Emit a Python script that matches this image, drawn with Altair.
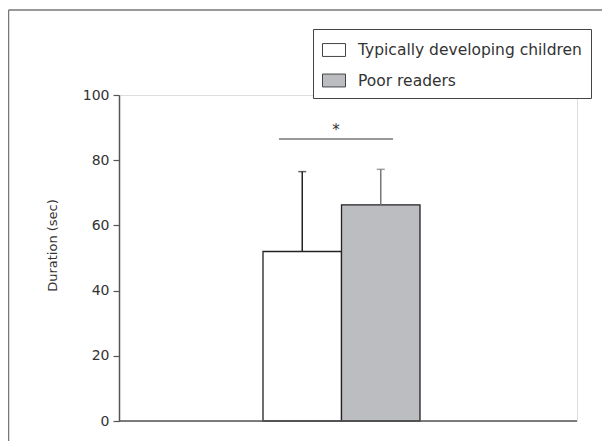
import altair as alt
import pandas as pd

groups = ["Typically developing children", "Poor readers"]
means = [52.0, 66.3]
upper = [76.5, 77.2]
err_colors = ["#222222", "#777777"]
fills = ["#ffffff", "#bcbdc1"]
y_ticks = [0, 20, 40, 60, 80, 100]
sig_y = 86.5
star_y = 89.3

FONT = "DejaVu Sans"
W, H = 458, 326

df = pd.DataFrame({"group": groups, "mean": means, "upper": upper, "ecol": err_colors})

xscale = alt.Scale(domain=groups, range=[144, 301], paddingInner=0, paddingOuter=0)
yscale = alt.Scale(domain=[0, 100], nice=False)

base = alt.Chart(df)

bars = base.mark_bar(stroke="#222222", strokeWidth=1.3).encode(
    x=alt.X("group:N", scale=xscale, axis=None, sort=groups),
    y=alt.Y("mean:Q", scale=yscale,
            axis=alt.Axis(values=y_ticks, title="Duration (sec)", grid=False,
                          tickSize=6, labelPadding=4, domainColor="#555555",
                          tickColor="#555555", domainWidth=1.5, tickWidth=1.2,
                          labelFont=FONT, labelFontSize=14, labelColor="#333333",
                          titleFont=FONT, titleFontSize=13, titleFontWeight="normal",
                          titleColor="#333333", titleAngle=-90, titleX=-60, titleY=150,
                          titleAlign="center", titleBaseline="bottom")),
    fill=alt.Fill("group:N", scale=alt.Scale(domain=groups, range=fills),
                  legend=alt.Legend(title=None, orient="none", legendX=194, legendY=-66,
                                    symbolType="M-1,-0.56L1,-0.56L1,0.56L-1,0.56Z",
                                    symbolSize=529, symbolStrokeColor="#444444",
                                    symbolStrokeWidth=1, labelFont=FONT, labelFontSize=15.5,
                                    labelColor="#333333", labelLimit=400, labelOffset=12,
                                    rowPadding=9.5, padding=9, strokeColor="#444444",
                                    fillColor="#ffffff")),
)

err = base.mark_rule(strokeWidth=1.5).encode(
    x=alt.X("group:N", scale=xscale, sort=groups),
    y=alt.Y("mean:Q", scale=yscale),
    y2="upper:Q",
    color=alt.Color("ecol:N", scale=None),
)

caps = base.mark_tick(size=8, thickness=1.5).encode(
    x=alt.X("group:N", scale=xscale, sort=groups),
    y=alt.Y("upper:Q", scale=yscale),
    color=alt.Color("ecol:N", scale=None),
)

baseline = alt.Chart(pd.DataFrame({"v": [0]})).mark_rule(color="#555555", strokeWidth=1.5).encode(
    y=alt.Y("v:Q", scale=yscale), x=alt.value(0), x2=alt.value(W)
)

sig = alt.Chart(pd.DataFrame({"v": [sig_y]})).mark_rule(color="#777777", strokeWidth=1.5).encode(
    y=alt.Y("v:Q", scale=yscale), x=alt.value(160), x2=alt.value(274)
)

star = alt.Chart(pd.DataFrame({"v": [star_y], "t": ["*"]})).mark_text(
    font=FONT, fontSize=15, baseline="middle"
).encode(y=alt.Y("v:Q", scale=yscale), x=alt.value(217), text="t:N",
         color=alt.value("#333333"))

frame_top = alt.Chart(pd.DataFrame({"v": [0]})).mark_rule(color="#777777", strokeWidth=1.5).encode(
    x=alt.value(-110.5), x2=alt.value(W + 30), y=alt.value(-85)
)
frame_left = alt.Chart(pd.DataFrame({"v": [0]})).mark_rule(color="#777777", strokeWidth=1.5).encode(
    x=alt.value(-110.5), y=alt.value(-85), y2=alt.value(H + 30)
)

chart = alt.layer(frame_top, frame_left, bars, err, caps, baseline, sig, star).properties(
    width=W, height=H,
    autosize=alt.AutoSizeParams(type="none"),
    padding={"left": 111, "top": 87, "right": 25, "bottom": 20},
).configure_view(stroke=None).configure(background="white")

chart.save("out.html", embed_options={"renderer": "svg", "actions": False})
